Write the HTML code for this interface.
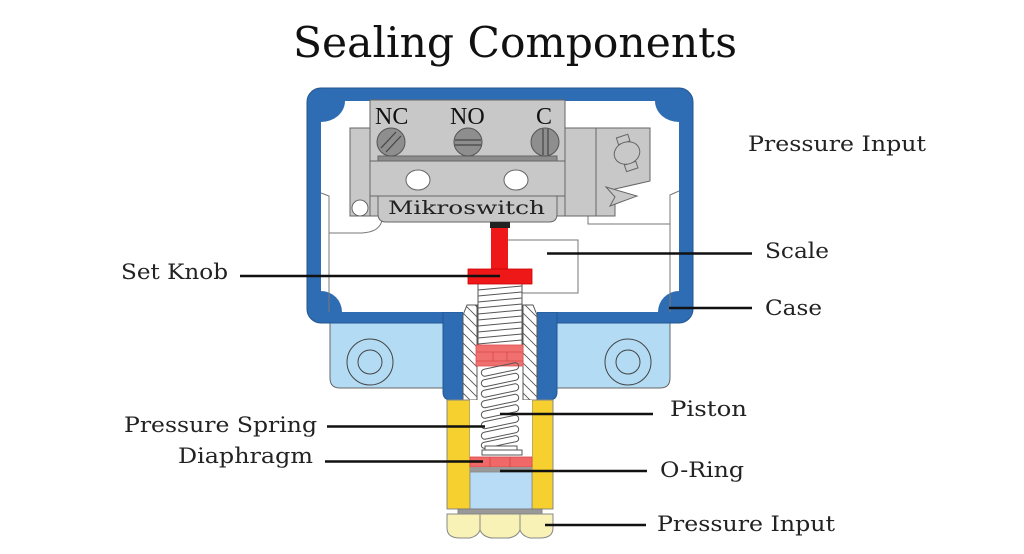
<!DOCTYPE html>
<html><head><meta charset="utf-8"><style>
html,body{margin:0;padding:0;background:#fff;}
svg{display:block;}
</style></head><body>
<svg width="1024" height="554" viewBox="0 0 1024 554" xmlns="http://www.w3.org/2000/svg">
<defs>
<pattern id="hatch" patternUnits="userSpaceOnUse" width="10" height="10">
<path d="M-1 -1 L11 11 M-6 4 L6 16 M4 -6 L16 6" stroke="#555" stroke-width="0.9"/>
</pattern>
</defs>
<rect width="1024" height="554" fill="#fff"/>

<!-- Title -->
<text x="293" y="57" font-family="DejaVu Serif, Liberation Serif, serif" font-size="42" fill="#111" textLength="444" lengthAdjust="spacingAndGlyphs">Sealing Components</text>

<!-- Mounting ears -->
<path d="M330 316 L443 316 L443 388 L340 388 Q330 388 330 378 Z" fill="#b3dcf4" stroke="#666" stroke-width="1"/>
<circle cx="370" cy="362" r="23" fill="none" stroke="#444" stroke-width="1"/>
<circle cx="370" cy="362" r="12" fill="none" stroke="#444" stroke-width="1"/>
<path d="M557 316 L670 316 L670 378 Q670 388 660 388 L557 388 Z" fill="#b3dcf4" stroke="#666" stroke-width="1"/>
<circle cx="628" cy="362" r="23" fill="none" stroke="#444" stroke-width="1"/>
<circle cx="628" cy="362" r="12" fill="none" stroke="#444" stroke-width="1"/>

<!-- Case blue -->
<rect x="307" y="88" width="386" height="235" rx="14" fill="#2e6db4" stroke="#23568f" stroke-width="1"/>
<path d="M443 312 L463 312 L463 400 L451 400 Q443 400 443 392 Z" fill="#2e6db4" stroke="#23568f" stroke-width="1"/>
<path d="M537 312 L557 312 L557 392 Q557 400 549 400 L537 400 Z" fill="#2e6db4" stroke="#23568f" stroke-width="1"/>
<rect x="443.5" y="318" width="19" height="10" fill="#2e6db4"/>
<rect x="537.5" y="318" width="19" height="10" fill="#2e6db4"/>
<rect x="321" y="101" width="358" height="211" fill="#fff"/>
<rect x="463" y="304" width="74" height="96" fill="#fff"/>
<!-- inner corner fillets -->
<path d="M321 101 L345 101 A24 21 0 0 1 321 122 Z" fill="#2e6db4"/>
<path d="M679 101 L655 101 A24 21 0 0 0 679 122 Z" fill="#2e6db4"/>
<path d="M321 312 L321 291 A21 21 0 0 1 342 312 Z" fill="#2e6db4"/>
<path d="M679 312 L679 291 A21 21 0 0 0 658 312 Z" fill="#2e6db4"/>

<!-- interior thin lines -->
<g fill="none" stroke="#777" stroke-width="1">
<path d="M321 193 L329 196 L329 312"/>
<path d="M329 233 L362 233 Q380 232 382 220"/>
<path d="M679 191 L670 195 L670 312"/>
<path d="M588 214 L588 224 L670 224"/>
<path d="M508 240 L578 240 L578 293 L522 293"/>
</g>

<!-- Switch -->
<g stroke="#666" stroke-width="1">
<rect x="350" y="128" width="20" height="88" fill="#c8c8c8"/>
<rect x="370" y="100" width="195" height="116" fill="#c8c8c8"/>
<rect x="565" y="128" width="31" height="88" fill="#c8c8c8"/>
<path d="M596 128 L650 128 L650 181 L615 189 L615 216 L596 216 Z" fill="#c8c8c8"/>
<path d="M606 187 L637 196 L610 206 L615 197 Z" fill="#c8c8c8"/>
<line x1="370" y1="161" x2="565" y2="161"/>
<line x1="370" y1="196" x2="565" y2="196"/>
<rect x="378" y="156" width="179" height="5" fill="#8c8c8c"/>
<path d="M378 196 L557 196 L557 214 Q557 222 549 222 L386 222 Q378 222 378 214 Z" fill="#c8c8c8"/>
<ellipse cx="418" cy="180" rx="12" ry="10" fill="#fff"/>
<ellipse cx="516" cy="180" rx="12" ry="10" fill="#fff"/>
<circle cx="360" cy="208" r="8" fill="#fff"/>
<!-- oval with tabs -->
<rect x="617" y="136" width="12" height="7" fill="#c8c8c8" transform="rotate(-18 623 139)"/>
<rect x="625" y="163" width="12" height="7" fill="#c8c8c8" transform="rotate(-18 631 166)"/>
<ellipse cx="627" cy="153" rx="13" ry="11" fill="#c8c8c8" transform="rotate(-20 627 153)"/>
<!-- screws -->
<circle cx="391" cy="142" r="14" fill="#8e8e8e" stroke="#555"/>
<circle cx="468" cy="142" r="14" fill="#8e8e8e" stroke="#555"/>
<circle cx="545" cy="142" r="14" fill="#8e8e8e" stroke="#555"/>
</g>
<g stroke="#444" stroke-width="1.2">
<line x1="381" y1="148" x2="396" y2="132"/>
<line x1="386" y1="152" x2="401" y2="136"/>
<line x1="455" y1="140" x2="481" y2="140"/>
<line x1="455" y1="145" x2="481" y2="145"/>
<line x1="543" y1="129" x2="543" y2="155"/>
<line x1="548" y1="129" x2="548" y2="155"/>
</g>
<text x="375" y="124" font-family="Liberation Serif, serif" font-size="24" fill="#111">NC</text>
<text x="450" y="124" font-family="Liberation Serif, serif" font-size="24" fill="#111">NO</text>
<text x="536" y="124" font-family="Liberation Serif, serif" font-size="24" fill="#111">C</text>
<text x="388" y="214" font-family="DejaVu Serif, serif" font-size="19" fill="#222" textLength="157" lengthAdjust="spacingAndGlyphs">Mikroswitch</text>

<!-- Set knob -->
<rect x="490" y="222" width="20" height="6" fill="#222"/>
<rect x="491" y="228" width="17" height="42" fill="#ee1818"/>
<rect x="468" y="269" width="64" height="15" fill="#ee1818" stroke="#c00" stroke-width="0.8"/>

<!-- Upper spring -->
<g stroke="#555" stroke-width="1" fill="none">
<line x1="478" y1="284" x2="478" y2="345"/>
<line x1="522" y1="284" x2="522" y2="345"/>
<path d="M478 290 L522 286 M478 296 L522 292 M478 302 L522 298 M478 308 L522 304 M478 314 L522 310 M478 320 L522 316 M478 326 L522 322 M478 332 L522 328 M478 338 L522 334 M478 344 L522 340"/>
</g>

<!-- Guides (hatched) -->
<path d="M463 315 L467 305 L477 305 L477 400 L463 400 Z" fill="url(#hatch)" stroke="#555" stroke-width="1"/>
<path d="M523 305 L533 305 L537 315 L537 400 L523 400 Z" fill="url(#hatch)" stroke="#555" stroke-width="1"/>

<!-- Pink block -->
<rect x="476" y="345" width="47" height="21" fill="#f07070" stroke="#e05050" stroke-width="0.8"/>
<g stroke="#d84848" stroke-width="0.8">
<line x1="476" y1="352" x2="523" y2="352"/>
<line x1="476" y1="361" x2="523" y2="361"/>
<line x1="493" y1="352" x2="493" y2="361"/>
<line x1="507" y1="352" x2="507" y2="361"/>
</g>

<!-- Yellow bodies -->
<rect x="447" y="400" width="23" height="109" fill="#f6d02e" stroke="#888" stroke-width="1"/>
<rect x="532" y="400" width="21" height="109" fill="#f6d02e" stroke="#888" stroke-width="1"/>
<rect x="470" y="400" width="62" height="57" fill="#fff"/>

<!-- Lower spring -->
<g fill="none" stroke="#555" stroke-width="1">
<rect x="481" y="366" width="38" height="7" rx="3.5" transform="rotate(-12 500 369.5)"/>
<rect x="481" y="376.5" width="38" height="7" rx="3.5" transform="rotate(-12 500 380)"/>
<rect x="481" y="387" width="38" height="7" rx="3.5" transform="rotate(-12 500 390.5)"/>
<rect x="481" y="397.5" width="38" height="7" rx="3.5" transform="rotate(-12 500 401)"/>
<rect x="481" y="408" width="38" height="7" rx="3.5" transform="rotate(-12 500 411.5)"/>
<rect x="481" y="418.5" width="38" height="7" rx="3.5" transform="rotate(-12 500 422)"/>
<rect x="481" y="429" width="38" height="7" rx="3.5" transform="rotate(-12 500 432.5)"/>
<rect x="481" y="439" width="38" height="6" rx="3" transform="rotate(-12 500 442)"/>
</g>
<!-- Piston plate -->
<rect x="485" y="446" width="32" height="4" fill="#fff" stroke="#555" stroke-width="1"/>
<rect x="482" y="450" width="40" height="5" fill="#fff" stroke="#555" stroke-width="1"/>

<!-- Diaphragm / O-ring / chamber -->
<rect x="470" y="457" width="62" height="10" fill="#f06868" stroke="#d84848" stroke-width="0.8"/>
<line x1="490" y1="457" x2="490" y2="467" stroke="#d04040" stroke-width="0.8"/>
<line x1="510" y1="457" x2="510" y2="467" stroke="#d04040" stroke-width="0.8"/>
<rect x="470" y="467" width="62" height="5" fill="#999"/>
<rect x="470" y="472" width="62" height="37" fill="#b8dcf5" stroke="#888" stroke-width="0.8"/>
<rect x="458" y="509" width="84" height="5" fill="#999" stroke="#777" stroke-width="0.8"/>

<!-- Nut -->
<path d="M447 514 L553 514 L553 528 Q553 538 540 538 L530 538 Q522 536 520 530 Q517 537 508 538 L492 538 Q483 537 480 530 Q478 536 470 538 L460 538 Q447 538 447 528 Z" fill="#f8f2b6" stroke="#888" stroke-width="1"/>
<line x1="480" y1="514" x2="480" y2="530" stroke="#888" stroke-width="1"/>
<line x1="520" y1="514" x2="520" y2="530" stroke="#888" stroke-width="1"/>

<!-- Connector lines -->
<g stroke="#111" stroke-width="2.5">
<line x1="240" y1="276" x2="500" y2="276"/>
<line x1="327" y1="426.5" x2="485" y2="426.5"/>
<line x1="325" y1="461.5" x2="483" y2="461.5"/>
<line x1="500" y1="414" x2="653" y2="414"/>
<line x1="500" y1="471" x2="647" y2="471"/>
<line x1="545" y1="525" x2="646" y2="525"/>
<line x1="547" y1="253.5" x2="752" y2="253.5"/>
<line x1="669" y1="308" x2="752" y2="308"/>
</g>

<!-- Labels -->
<g font-family="DejaVu Serif, Liberation Serif, serif" font-size="21" fill="#222">
<text x="121" y="279" textLength="107" lengthAdjust="spacingAndGlyphs">Set Knob</text>
<text x="124" y="432" textLength="193" lengthAdjust="spacingAndGlyphs">Pressure Spring</text>
<text x="178" y="463" textLength="135" lengthAdjust="spacingAndGlyphs">Diaphragm</text>
<text x="748" y="151" textLength="178" lengthAdjust="spacingAndGlyphs">Pressure Input</text>
<text x="765" y="258" textLength="64" lengthAdjust="spacingAndGlyphs">Scale</text>
<text x="765" y="315" textLength="57" lengthAdjust="spacingAndGlyphs">Case</text>
<text x="670" y="416" textLength="77" lengthAdjust="spacingAndGlyphs">Piston</text>
<text x="660" y="477" textLength="84" lengthAdjust="spacingAndGlyphs">O-Ring</text>
<text x="657" y="531" textLength="178" lengthAdjust="spacingAndGlyphs">Pressure Input</text>
</g>
</svg>
</body></html>
